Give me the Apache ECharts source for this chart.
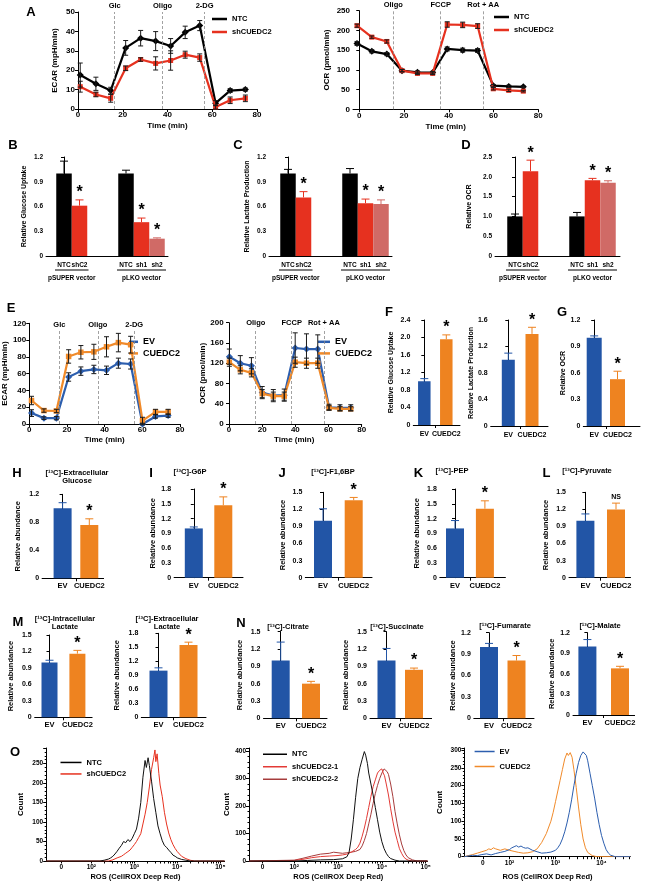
<!DOCTYPE html>
<html><head><meta charset="utf-8">
<script src="https://cdn.jsdelivr.net/npm/echarts@6/dist/echarts.min.js"></script>
<style>html,body{margin:0;padding:0;background:#fff}#c{width:648px;height:886px}</style>
</head><body><div id="c"></div>
<script>
// ================= DATA =================
// A - ECAR
const timeA_ECAR = [1.0, 8.0, 14.6, 21.3, 28.0, 34.7, 41.4, 47.9, 54.4, 61.5, 68.0, 74.8];
const ecarA_NTC = [17.5, 13.0, 9.5, 31.5, 36.5, 35.0, 32.5, 39.5, 43.0, 3.0, 9.5, 10.0];
const ecarA_NTC_err = [6.2, 3.4, 1.7, 3.8, 4.0, 4.9, 3.8, 3.2, 2.6, 1.3, 1.0, 0.8];
const ecarA_sh = [11.5, 7.5, 5.5, 21.0, 25.5, 23.5, 25.0, 28.0, 26.5, 1.0, 4.5, 5.5];
const ecarA_sh_err = [2.8, 1.2, 2.0, 1.2, 0.9, 3.4, 5.0, 1.8, 1.9, 1.0, 1.7, 1.7];
const injA_ECAR = [16.4, 37.8, 56.6];
const injA_ECAR_names = ['Glc', 'Oligo', '2-DG'];
// A - OCR
const timeA_OCR = [-1.0, 5.6, 12.3, 19.1, 26.0, 32.8, 39.3, 46.2, 52.9, 59.9, 66.8, 73.3];
const ocrA_NTC = [167, 147, 140, 98, 94, 93, 153, 150, 149, 60, 58, 57];
const ocrA_NTC_err = [5, 4, 4, 3, 3, 3, 5, 5, 5, 3, 3, 2];
const ocrA_sh = [212, 183, 172, 98, 91, 91, 215, 214, 211, 52, 48, 46];
const ocrA_sh_err = [4, 3, 4, 3, 3, 3, 7, 7, 6, 3, 3, 2];
const injA_OCR = [15.2, 36.4, 55.4];
const injA_OCR_names = ['Oligo', 'FCCP', 'Rot + AA'];
// B, C, D
const catsBCD = ['NTC', 'shC2', '', '', 'NTC', 'sh1', 'sh2'];
const groupsBCD = ['pSUPER vector', 'pLKO vector'];
const valsB = [1.0, 0.61, 1.0, 0.41, 0.21];
const errB = [0.15, 0.07, 0.04, 0.05, 0.01];
const valsC = [1.0, 0.71, 1.0, 0.64, 0.63];
const errC = [0.05, 0.07, 0.06, 0.05, 0.05];
const valsD = [1.0, 2.14, 1.0, 1.91, 1.85];
const errD = [0.06, 0.28, 0.10, 0.05, 0.05];
const sigBCD = ['', '*', '', '*', '*'];
// E - ECAR
const timeE_ECAR = [1.2, 7.8, 14.4, 20.9, 27.4, 34.3, 41.0, 47.3, 53.8, 60.1, 67.0, 73.7];
const ecarE_EV = [13, 7, 7, 56, 63, 65, 64, 72.5, 71.5, 0, 9, 10];
const ecarE_EV_err = [4, 1.5, 2, 5, 5, 5, 5, 6, 6, 1, 2, 2];
const ecarE_CU = [28, 16, 15.5, 80.5, 85.5, 86, 92, 97, 94.5, 4, 14.5, 14.5];
const ecarE_CU_err = [5, 2, 2, 8, 8, 9, 12, 11, 10, 4, 3, 3];
const injE_ECAR = [16.0, 36.4, 55.7];
const injE_ECAR_names = ['Glc', 'Oligo', '2-DG'];
// E - OCR
const timeE_OCR = [0.2, 6.8, 13.5, 20.0, 26.7, 33.3, 39.9, 46.7, 53.5, 60.3, 66.9, 73.4];
const ocrE_EV = [133, 120, 115, 62, 56, 57, 150, 148, 148, 33, 32, 32];
const ocrE_EV_err = [15, 15, 16, 12, 12, 12, 30, 30, 28, 6, 6, 6];
const ocrE_CU = [122, 107, 101, 60, 55, 55, 122, 120, 120, 32, 30, 30];
const ocrE_CU_err = [8, 8, 8, 8, 8, 8, 10, 10, 10, 4, 4, 4];
const injE_OCR = [16.1, 37.8, 57.2];
const injE_OCR_names = ['Oligo', 'FCCP', 'Rot + AA'];
// F, G and H-N : EV vs CUEDC2
const catsEV = ['EV', 'CUEDC2'];
const valsF1 = [1.0, 1.96], errF1 = [0.06, 0.10];
const valsF2 = [1.0, 1.39], errF2 = [0.10, 0.10];
const valsG = [1.0, 0.53], errG = [0.02, 0.09];
const valsH = [1.0, 0.76], errH = [0.08, 0.09];
const valsI = [1.0, 1.47], errI = [0.03, 0.17];
const valsJ = [1.0, 1.36], errJ = [0.21, 0.05];
const valsK = [1.0, 1.40], errK = [0.16, 0.16];
const valsL = [1.0, 1.20], errL = [0.12, 0.11];
const valsM1 = [1.0, 1.16], errM1 = [0.04, 0.06];
const valsM2 = [1.0, 1.55], errM2 = [0.06, 0.06];
const valsN1 = [1.0, 0.60], errN1 = [0.32, 0.04];
const valsN2 = [1.0, 0.84], errN2 = [0.21, 0.03];
const valsN3 = [1.0, 0.81], errN3 = [0.05, 0.07];
const valsN4 = [1.0, 0.68], errN4 = [0.10, 0.03];
const sigStar = ['', '*'];
const sigNS = ['', 'NS'];
const titlesHN = {
  H: '[¹³C]-Extracellular\nGlucose', I: '[¹³C]-G6P', J: '[¹³C]-F1,6BP', K: '[¹³C]-PEP', L: '[¹³C]-Pyruvate',
  M1: '[¹³C]-Intracellular\nLactate', M2: '[¹³C]-Extracellular\nLactate',
  N1: '[¹³C]-Citrate', N2: '[¹³C]-Succinate', N3: '[¹³C]-Fumarate', N4: '[¹³C]-Malate'
};
// O - flow histograms  [log10 fluorescence (display units), count]
const o1Ticks = [1.3, 2, 3, 4, 5];
const o2Ticks = [1.28, 2, 3, 4, 5];
const o3Ticks = [1.42, 2, 3, 4];
const oTickLabels = ['0', '10²', '10³', '10⁴', '10⁵'];
const o1_NTC = [[0.95,0],[2.2,0],[2.3,2],[2.4,5],[2.45,8],[2.5,12],[2.55,18],[2.6,25],[2.65,33],[2.7,40],[2.75,50],[2.8,47],[2.85,55],[2.9,50],[2.95,58],[3.0,70],[3.05,82],[3.1,110],[3.15,150],[3.2,215],[3.25,258],[3.28,240],[3.32,265],[3.35,245],[3.4,205],[3.45,160],[3.5,125],[3.55,90],[3.6,70],[3.65,52],[3.7,40],[3.75,35],[3.8,28],[3.85,22],[3.9,15],[3.95,12],[4.0,8],[4.1,4],[4.2,2],[4.3,0],[5.1,0]];
const o1_sh = [[0.95,0],[2.4,0],[2.5,3],[2.6,8],[2.7,12],[2.75,16],[2.8,20],[2.85,24],[2.9,28],[2.95,35],[3.0,42],[3.05,50],[3.1,60],[3.15,70],[3.2,95],[3.25,120],[3.3,150],[3.35,190],[3.4,235],[3.45,265],[3.48,285],[3.5,255],[3.53,275],[3.57,225],[3.6,195],[3.65,165],[3.7,125],[3.75,95],[3.8,72],[3.85,55],[3.9,42],[3.95,32],[4.0,24],[4.05,18],[4.1,12],[4.2,6],[4.3,2],[4.4,0],[5.1,0]];
const o2_NTC = [[0.97,0],[2.0,0],[2.3,2],[2.6,4],[2.9,5],[3.1,8],[3.2,15],[3.25,30],[3.3,80],[3.35,150],[3.4,230],[3.45,300],[3.5,340],[3.55,370],[3.6,398],[3.63,385],[3.67,355],[3.7,320],[3.75,280],[3.8,240],[3.85,195],[3.9,150],[3.95,105],[4.0,70],[4.05,45],[4.1,28],[4.15,16],[4.2,9],[4.3,3],[4.4,0],[5.04,0]];
const o2_sh1 = [[0.97,0],[2.0,2],[2.2,6],[2.4,12],[2.6,16],[2.8,18],[3.0,20],[3.1,22],[3.2,25],[3.3,32],[3.4,42],[3.45,50],[3.5,65],[3.55,90],[3.6,120],[3.65,155],[3.7,195],[3.75,235],[3.8,270],[3.85,295],[3.9,320],[3.95,330],[4.0,335],[4.03,320],[4.06,310],[4.1,280],[4.15,240],[4.2,190],[4.25,145],[4.3,105],[4.35,75],[4.4,45],[4.45,28],[4.5,14],[4.55,7],[4.6,3],[4.7,0],[5.04,0]];
const o2_sh2 = [[0.97,0],[2.0,3],[2.2,10],[2.4,18],[2.6,25],[2.8,28],[2.9,32],[3.0,30],[3.1,28],[3.2,30],[3.3,32],[3.4,35],[3.5,42],[3.55,55],[3.6,75],[3.65,100],[3.7,135],[3.75,170],[3.8,210],[3.85,245],[3.9,275],[3.95,300],[4.0,320],[4.05,335],[4.08,342],[4.12,325],[4.15,315],[4.2,280],[4.25,235],[4.3,180],[4.35,135],[4.4,95],[4.45,62],[4.5,38],[4.55,22],[4.6,12],[4.7,4],[4.8,0],[5.04,0]];
const o3_EV = [[1.02,0],[1.1,2],[1.2,4],[1.3,3],[1.4,6],[1.5,8],[1.6,5],[1.7,9],[1.8,12],[1.9,15],[2.0,20],[2.05,25],[2.1,28],[2.15,31],[2.2,27],[2.25,30],[2.3,26],[2.35,24],[2.4,25],[2.5,18],[2.6,14],[2.7,10],[2.8,11],[2.9,13],[3.0,18],[3.05,25],[3.1,35],[3.15,50],[3.2,70],[3.25,95],[3.3,125],[3.35,160],[3.4,200],[3.45,235],[3.5,265],[3.55,285],[3.6,295],[3.63,298],[3.67,285],[3.7,270],[3.75,235],[3.8,200],[3.85,165],[3.9,125],[3.95,90],[4.0,60],[4.05,38],[4.1,20],[4.15,10],[4.2,4],[4.3,0],[4.63,0]];
const o3_CU = [[1.02,0],[1.1,3],[1.2,6],[1.3,10],[1.4,14],[1.5,18],[1.55,22],[1.6,20],[1.65,25],[1.7,22],[1.8,18],[1.9,22],[2.0,18],[2.1,15],[2.2,12],[2.3,10],[2.4,11],[2.5,14],[2.6,22],[2.7,40],[2.8,65],[2.9,100],[2.95,125],[3.0,155],[3.05,185],[3.1,215],[3.15,245],[3.2,275],[3.25,292],[3.28,285],[3.32,293],[3.36,280],[3.4,245],[3.45,195],[3.5,140],[3.55,90],[3.6,50],[3.65,25],[3.7,12],[3.8,3],[3.9,0],[4.63,0]];

// ================= STYLE / HELPERS =================
const FF = "'Liberation Sans', Arial, Helvetica, sans-serif";
const C_RED = '#e6311f', C_PINK = '#d06a66', C_BLK = '#000000';
const C_BLUE = '#2255a6', C_ORG = '#ee8320';
const colorsBCD = [C_BLK, C_RED, C_BLK, C_RED, C_PINK];
const colorsEV = [C_BLUE, C_ORG];

const grids = [], xAxes = [], yAxes = [], series = [], graphic = [], legends = [];
const AX = {color: '#000', width: 1};
const lab = fs => ({color: '#000', fontFamily: FF, fontWeight: 'bold', fontSize: fs});

function addText(x, y, text, fs, align, lh) {
  graphic.push({type: 'text', x: x, y: y, silent: true, z: 100,
    style: {text: text, fill: '#000', fontFamily: FF, fontWeight: 'bold', fontSize: fs,
      align: align || 'center', verticalAlign: 'middle', lineHeight: lh || fs + 1}});
}
function addLine(x1, y1, x2, y2) {
  graphic.push({type: 'line', silent: true, z: 100, shape: {x1: x1, y1: y1, x2: x2, y2: y2},
    style: {stroke: '#000', lineWidth: 1}});
}
function addGrid(l, t, r, b) { grids.push({left: l, top: t, width: r - l, height: b - t}); return grids.length - 1; }

function makeY(gi, o) {
  const lbl = Object.assign(lab(o.fs), {margin: 3});
  if (o.fmt) lbl.formatter = o.fmt;
  if (o.hideMax) lbl.showMaxLabel = false;
  return {gridIndex: gi, type: 'value', min: 0, max: o.max, interval: o.interval,
    splitLine: {show: false}, axisLine: {show: true, lineStyle: AX},
    axisTick: {show: true, length: 3, lineStyle: AX},
    minorTick: o.minor ? {show: true, splitNumber: o.minor, length: 1.5, lineStyle: AX} : {show: false},
    axisLabel: lbl,
    name: o.name, nameLocation: 'middle', nameGap: o.gap, nameRotate: 90, nameTextStyle: lab(o.nfs)};
}
const dec1 = v => (Math.abs(v) < 1e-9 ? '0' : v.toFixed(1));

function barPanel(p) {
  const gi = addGrid(p.left, p.top, p.end, p.bottom);
  const pos = [];
  p.cats.forEach((c, i) => { if (c !== '') pos.push(i); });
  const xmin = -(p.c0 - p.left) / p.slot, xmax = (p.end - p.c0) / p.slot;
  const bounds = [];
  for (let k = 0; k < pos.length - 1; k++) if (pos[k + 1] === pos[k] + 1) bounds.push(pos[k] + 0.5);
  xAxes.push({gridIndex: gi, type: 'value', min: xmin, max: xmax, splitLine: {show: false},
    axisLine: {show: true, onZero: false, lineStyle: AX},
    axisTick: {show: !!p.xticks, length: 3, lineStyle: AX, customValues: bounds},
    axisLabel: Object.assign(lab(p.xfs), {margin: p.xmargin, customValues: pos,
      formatter: v => p.cats[Math.round(v)]})});
  yAxes.push(makeY(gi, {max: p.ymax, interval: p.yint, fs: p.fs, nfs: p.nfs, name: p.yname, gap: p.ygap, fmt: dec1}));
  series.push({type: 'bar', xAxisIndex: gi, yAxisIndex: gi, barWidth: p.barW, silent: true,
    data: pos.map((ix, k) => ({value: [ix, p.vals[k]], itemStyle: {color: p.colors[k]}}))});
  series.push({type: 'custom', xAxisIndex: gi, yAxisIndex: gi, silent: true, clip: false, z: 5,
    data: pos.map((ix, k) => [ix, p.vals[k], p.errs[k], k]),
    renderItem: function (params, api) {
      const x = api.value(0), v = api.value(1), e = api.value(2), k = api.value(3);
      const a = api.coord([x, v]), b = api.coord([x, v + e]);
      const col = p.colors[k], cap = p.cap || 4;
      const ch = [
        {type: 'line', shape: {x1: a[0], y1: a[1], x2: b[0], y2: b[1]}, style: {stroke: col, lineWidth: 1}},
        {type: 'line', shape: {x1: b[0] - cap, y1: b[1], x2: b[0] + cap, y2: b[1]}, style: {stroke: col, lineWidth: 1}}
      ];
      const s = p.sig[k];
      if (s) ch.push({type: 'text', x: b[0], y: b[1] - (s === '*' ? -1 : 3),
        style: {text: s, fill: '#000', fontFamily: FF, fontWeight: 'bold', fontSize: s === '*' ? 16 : 7,
          align: 'center', verticalAlign: 'bottom'}});
      return {type: 'group', children: ch};
    }});
  if (p.groups) {
    const px = i => p.c0 + i * p.slot;
    const runs = [];
    pos.forEach(ix => {
      const r = runs[runs.length - 1];
      if (r && r[1] === ix - 1) r[1] = ix; else runs.push([ix, ix]);
    });
    runs.forEach((r, gi2) => {
      const x1 = px(r[0]) - 9, x2 = px(r[1]) + 9;
      addLine(x1, p.bottom + 14, x2, p.bottom + 14);
      addText((x1 + x2) / 2, p.bottom + 22.5, p.groups[gi2], p.gfs || p.xfs);
    });
  }
  if (p.title) addText(p.titleX, p.titleY, p.title, 7.5, 'center', 8);
}

function errSym(cap, col) {
  return function (params, api) {
    const t = api.value(0), v = api.value(1), e = api.value(2);
    const a = api.coord([t, v - e]), b = api.coord([t, v + e]);
    const st = {stroke: col, lineWidth: 1};
    return {type: 'group', children: [
      {type: 'line', shape: {x1: a[0], y1: a[1], x2: b[0], y2: b[1]}, style: st},
      {type: 'line', shape: {x1: a[0] - cap, y1: a[1], x2: a[0] + cap, y2: a[1]}, style: st},
      {type: 'line', shape: {x1: b[0] - cap, y1: b[1], x2: b[0] + cap, y2: b[1]}, style: st}
    ]};
  };
}

function linePanel(p) {
  const gi = addGrid(p.left, p.top, p.right, p.bottom);
  xAxes.push({gridIndex: gi, type: 'value', min: p.xmin, max: p.xmax, splitLine: {show: false},
    axisLine: {show: true, onZero: false, lineStyle: AX},
    axisTick: {show: true, length: 3, lineStyle: AX, customValues: p.xticks},
    axisLabel: Object.assign(lab(p.fs), {margin: p.xmargin, customValues: p.xticks}),
    name: 'Time (min)', nameLocation: 'middle', nameGap: p.xgap, nameTextStyle: lab(p.nfs)});
  yAxes.push(makeY(gi, {max: p.ymax, interval: p.yint, fs: p.fs, nfs: p.nfs, name: p.yname, gap: p.ygap}));
  p.lines.forEach((s, si) => {
    const ser = {type: 'line', name: s.name, xAxisIndex: gi, yAxisIndex: gi, z: 3 + si, silent: true,
      data: s.t.map((t, i) => [t, s.v[i]]), symbol: s.symbol, symbolSize: s.size, showSymbol: true,
      color: s.color, itemStyle: {color: s.color}, lineStyle: {color: s.color, width: 2.2}};
    if (si === 0) {
      ser.markLine = {silent: true, symbol: ['none', 'none'], animation: false,
        lineStyle: {type: [3, 2], color: '#8a8a8a', width: 0.8},
        label: Object.assign({show: true, position: 'end', distance: 2, formatter: '{b}'}, lab(p.injFs)),
        data: p.inj.map((x, i) => p.injTop == null ? {name: p.injNames[i], xAxis: x}
          : [{name: p.injNames[i], coord: [x, 0]}, {coord: [x, p.injTop]}])};
    }
    series.push(ser);
    series.push({type: 'custom', xAxisIndex: gi, yAxisIndex: gi, z: 6, silent: true, clip: false,
      data: s.t.map((t, i) => [t, s.v[i], s.e[i]]), renderItem: errSym(2.5, '#1a1a1a')});
  });
  legends.push({data: p.lines.map(s => s.name), left: p.leg.left, top: p.leg.top, orient: 'vertical',
    icon: 'rect', itemWidth: p.leg.w, itemHeight: 2.5, itemGap: 0, padding: 0, selectedMode: false,
    textStyle: Object.assign(lab(p.leg.fs), {lineHeight: p.leg.lh})});
}

function logMinor(majors, lo, hi) {
  const out = majors.slice();
  for (let d = 2; d < 5; d++) for (let m = 2; m <= 9; m++) {
    const v = d + Math.log10(m);
    if (v > lo && v < hi) out.push(v);
  }
  return out;
}

function histPanel(p) {
  const gi = addGrid(p.left, p.top, p.right, p.bottom);
  xAxes.push({gridIndex: gi, type: 'value', min: p.xmin, max: p.xmax, splitLine: {show: false},
    axisLine: {show: true, onZero: false, lineStyle: AX},
    axisTick: {show: true, length: 2.5, lineStyle: AX, customValues: logMinor(p.ticks, p.xmin, p.xmax)},
    axisLabel: Object.assign(lab(6.5), {margin: 3, customValues: p.ticks,
      formatter: v => { const i = p.ticks.findIndex(t => Math.abs(t - v) < 1e-6); return i >= 0 ? oTickLabels[i] : ''; }}),
    name: 'ROS (CellROX Deep Red)', nameLocation: 'middle', nameGap: p.xgap, nameTextStyle: lab(7.5)});
  yAxes.push(makeY(gi, {max: p.ymax, interval: p.yint, fs: 6.5, nfs: 8, name: 'Count', gap: p.ygap, minor: 5, hideMax: true}));
  p.curves.forEach((c, ci) => series.push({type: 'line', name: c.name, xAxisIndex: gi, yAxisIndex: gi,
    data: c.data, symbol: 'none', showSymbol: false, silent: true, z: 3 + ci, color: c.color,
    lineStyle: {color: c.color, width: 1}}));
  legends.push({data: p.curves.map(c => c.name).sort((a, b) => p.legOrder.indexOf(a) - p.legOrder.indexOf(b)),
    left: p.leg.left, top: p.leg.top, orient: 'vertical',
    icon: 'rect', itemWidth: p.leg.w, itemHeight: 1.5, itemGap: p.leg.gap, padding: 0, selectedMode: false,
    textStyle: Object.assign(lab(7.5), {lineHeight: p.leg.lh})});
}

// ================= PANELS =================
linePanel({left: 78, top: 12, right: 257, bottom: 109, xmin: 0, xmax: 80, xticks: [0, 20, 40, 60, 80],
  ymax: 50, yint: 10, yname: 'ECAR (mpH/min)', ygap: 19, fs: 8, nfs: 8, xgap: 13, xmargin: 2,
  inj: injA_ECAR, injNames: injA_ECAR_names, injFs: 7.5, injTop: null,
  lines: [{name: 'NTC', t: timeA_ECAR, v: ecarA_NTC, e: ecarA_NTC_err, color: C_BLK, symbol: 'diamond', size: 7},
          {name: 'shCUEDC2', t: timeA_ECAR, v: ecarA_sh, e: ecarA_sh_err, color: C_RED, symbol: 'rect', size: 5}],
  leg: {left: 212, top: 12.5, w: 15, fs: 7.5, lh: 13}});
linePanel({left: 353, top: 10.7, right: 538.3, bottom: 109.3, xmin: -2.8, xmax: 80, xticks: [0, 20, 40, 60, 80],
  ymax: 250, yint: 50, yname: 'OCR (pmol/min)', ygap: 22, fs: 8, nfs: 8, xgap: 13, xmargin: 2,
  inj: injA_OCR, injNames: injA_OCR_names, injFs: 7.5, injTop: null,
  lines: [{name: 'NTC', t: timeA_OCR, v: ocrA_NTC, e: ocrA_NTC_err, color: C_BLK, symbol: 'diamond', size: 7},
          {name: 'shCUEDC2', t: timeA_OCR, v: ocrA_sh, e: ocrA_sh_err, color: C_RED, symbol: 'rect', size: 5}],
  leg: {left: 494, top: 10.5, w: 15, fs: 7.5, lh: 13}});

const bcdCommon = {top: 157, bottom: 256, barW: 15.5, slot: 15.5, cats: catsBCD, sig: sigBCD, colors: colorsBCD,
  fs: 6.5, nfs: 7, xfs: 6.5, gfs: 6.5, xmargin: 6, groups: groupsBCD, cap: 4};
barPanel(Object.assign({}, bcdCommon, {left: 46, c0: 64, end: 168, vals: valsB, errs: errB,
  ymax: 1.2, yint: 0.3, yname: 'Relative Glucose Uptake', ygap: 18}));
barPanel(Object.assign({}, bcdCommon, {left: 269, c0: 288, end: 392, vals: valsC, errs: errC,
  ymax: 1.2, yint: 0.3, yname: 'Relative Lactate Production', ygap: 18}));
barPanel(Object.assign({}, bcdCommon, {left: 495, c0: 515, end: 620, vals: valsD, errs: errD,
  ymax: 2.5, yint: 0.5, yname: 'Relative OCR', ygap: 22}));

linePanel({left: 28.3, top: 323.3, right: 180, bottom: 424, xmin: 0, xmax: 80, xticks: [0, 20, 40, 60, 80],
  ymax: 120, yint: 20, yname: 'ECAR (mpH/min)', ygap: 18, fs: 8, nfs: 8, xgap: 12, xmargin: 2,
  inj: injE_ECAR, injNames: injE_ECAR_names, injFs: 7.5, injTop: 111,
  lines: [{name: 'EV', t: timeE_ECAR, v: ecarE_EV, e: ecarE_EV_err, color: '#2c5eae', symbol: 'diamond', size: 7},
          {name: 'CUEDC2', t: timeE_ECAR, v: ecarE_CU, e: ecarE_CU_err, color: '#f08a2a', symbol: 'rect', size: 5.5}],
  leg: {left: 129, top: 336, w: 9, fs: 9, lh: 11.6}});
linePanel({left: 226.7, top: 322.7, right: 361.7, bottom: 424, xmin: -1.4, xmax: 80, xticks: [0, 20, 40, 60, 80],
  ymax: 200, yint: 40, yname: 'OCR (pmol/min)', ygap: 18, fs: 8, nfs: 8, xgap: 12, xmargin: 2,
  inj: injE_OCR, injNames: injE_OCR_names, injFs: 7.5, injTop: 188,
  lines: [{name: 'EV', t: timeE_OCR, v: ocrE_EV, e: ocrE_EV_err, color: '#2c5eae', symbol: 'diamond', size: 7},
          {name: 'CUEDC2', t: timeE_OCR, v: ocrE_CU, e: ocrE_CU_err, color: '#f08a2a', symbol: 'rect', size: 5.5}],
  leg: {left: 318, top: 336, w: 12, fs: 9, lh: 11.6}});

const evCommon = {cats: catsEV, colors: colorsEV, fs: 7, nfs: 7, xfs: 7, xmargin: 6, cap: 4, xticks: true};
barPanel(Object.assign({}, evCommon, {left: 413.3, c0: 424.3, slot: 22, end: 460, barW: 12.5, top: 320, bottom: 425,
  vals: valsF1, errs: errF1, sig: sigStar, ymax: 2.4, yint: 0.4, yname: 'Relative Glucose Uptake', ygap: 19}));
barPanel(Object.assign({}, evCommon, {left: 490.7, c0: 508.3, slot: 23.7, end: 548, barW: 13, top: 320, bottom: 426,
  vals: valsF2, errs: errF2, sig: sigStar, ymax: 1.6, yint: 0.4, yname: 'Relative Lactate Production', ygap: 12.5}));
barPanel(Object.assign({}, evCommon, {left: 583.3, c0: 594.2, slot: 23.3, end: 640, barW: 15, top: 320, bottom: 426,
  vals: valsG, errs: errG, sig: sigStar, ymax: 1.2, yint: 0.3, yname: 'Relative OCR', ygap: 12}));

const hnCommon = Object.assign({}, evCommon, {fs: 7, nfs: 7.5, xfs: 7.5, xmargin: 4, barW: 18, yname: 'Relative abundance', cap: 4});
barPanel(Object.assign({}, hnCommon, {left: 42.1, c0: 62.6, slot: 26.7, end: 103.6, top: 494.3, bottom: 578.3,
  vals: valsH, errs: errH, sig: sigStar, ymax: 1.2, yint: 0.4, ygap: 20, title: titlesHN.H, titleX: 77, titleY: 477}));
barPanel(Object.assign({}, hnCommon, {left: 174.1, c0: 193.8, slot: 29.5, end: 243, top: 489, bottom: 577.7,
  vals: valsI, errs: errI, sig: sigStar, ymax: 1.8, yint: 0.3, ygap: 17, title: titlesHN.I, titleX: 190, titleY: 471.7}));
barPanel(Object.assign({}, hnCommon, {left: 305.3, c0: 323, slot: 30.7, end: 372, top: 492.3, bottom: 577.7,
  vals: valsJ, errs: errJ, sig: sigStar, ymax: 1.5, yint: 0.3, ygap: 18, title: titlesHN.J, titleX: 333, titleY: 471.7}));
barPanel(Object.assign({}, hnCommon, {left: 439.8, c0: 455, slot: 29.9, end: 505.4, top: 489, bottom: 577.7,
  vals: valsK, errs: errK, sig: sigStar, ymax: 1.8, yint: 0.3, ygap: 19, title: titlesHN.K, titleX: 452, titleY: 470.5}));
barPanel(Object.assign({}, hnCommon, {left: 569, c0: 585.4, slot: 30.6, end: 630.5, top: 492.3, bottom: 577.7,
  vals: valsL, errs: errL, sig: sigNS, ymax: 1.5, yint: 0.3, ygap: 19, title: titlesHN.L, titleX: 587, titleY: 470.5}));

barPanel(Object.assign({}, hnCommon, {left: 34.7, c0: 49.5, slot: 27.9, end: 92.1, top: 635, bottom: 717.3, barW: 16,
  vals: valsM1, errs: errM1, sig: sigStar, ymax: 1.5, yint: 0.3, ygap: 20, title: titlesHN.M1, titleX: 65, titleY: 623.3}));
barPanel(Object.assign({}, hnCommon, {left: 141.3, c0: 158.5, slot: 30, end: 206, top: 633.3, bottom: 717.3,
  vals: valsM2, errs: errM2, sig: sigStar, ymax: 1.8, yint: 0.3, ygap: 20, title: titlesHN.M2, titleX: 167, titleY: 623.3}));
barPanel(Object.assign({}, hnCommon, {left: 263.5, c0: 280.7, slot: 30.3, end: 327, top: 631.7, bottom: 718.3,
  vals: valsN1, errs: errN1, sig: sigStar, ymax: 1.5, yint: 0.3, ygap: 20, title: titlesHN.N1, titleX: 288, titleY: 627.3}));
barPanel(Object.assign({}, hnCommon, {left: 370, c0: 386.5, slot: 27.5, end: 431.6, top: 631.7, bottom: 718.3,
  vals: valsN2, errs: errN2, sig: sigStar, ymax: 1.5, yint: 0.3, ygap: 20, title: titlesHN.N2, titleX: 397, titleY: 627}));
barPanel(Object.assign({}, hnCommon, {left: 473.8, c0: 489, slot: 27.5, end: 534, top: 632.7, bottom: 718.3,
  vals: valsN3, errs: errN3, sig: sigStar, ymax: 1.2, yint: 0.3, ygap: 17, title: titlesHN.N3, titleX: 505, titleY: 626}));
barPanel(Object.assign({}, hnCommon, {left: 573, c0: 587.4, slot: 32.6, end: 634.6, top: 632.7, bottom: 715,
  vals: valsN4, errs: errN4, sig: sigStar, ymax: 1.2, yint: 0.3, ygap: 17, title: titlesHN.N4, titleX: 600, titleY: 626}));

histPanel({left: 46.2, top: 748, right: 224.6, bottom: 861, xmin: 0.95, xmax: 5.1, ticks: o1Ticks,
  ymax: 290, yint: 50, ygap: 21, xgap: 12,
  curves: [{name: 'shCUEDC2', data: o1_sh, color: C_RED}, {name: 'NTC', data: o1_NTC, color: '#111111'}],
  legOrder: ['NTC', 'shCUEDC2'], leg: {left: 60.5, top: 756.7, w: 21, gap: 0, lh: 11.5}});
histPanel({left: 249, top: 748, right: 427.5, bottom: 861, xmin: 0.97, xmax: 5.04, ticks: o2Ticks,
  ymax: 411, yint: 100, ygap: 18, xgap: 12,
  curves: [{name: 'shCUEDC2-2', data: o2_sh2, color: '#a63c3c'}, {name: 'shCUEDC2-1', data: o2_sh1, color: '#e33a36'},
           {name: 'NTC', data: o2_NTC, color: '#111111'}],
  legOrder: ['NTC', 'shCUEDC2-1', 'shCUEDC2-2'], leg: {left: 263, top: 748, w: 24, gap: 0, lh: 12.5}});
histPanel({left: 464.4, top: 748, right: 630.5, bottom: 856.7, xmin: 1.02, xmax: 4.63, ticks: o3Ticks,
  ymax: 306, yint: 50, ygap: 21, xgap: 16,
  curves: [{name: 'CUEDC2', data: o3_CU, color: '#f08a2a'}, {name: 'EV', data: o3_EV, color: '#2c5eae'}],
  legOrder: ['EV', 'CUEDC2'], leg: {left: 474.6, top: 746, w: 20, gap: 4, lh: 11}});

[['A', 31, 12.5], ['B', 13, 145], ['C', 238, 145], ['D', 466, 145], ['E', 11, 308.5], ['F', 389, 312.5],
 ['G', 562, 312.5], ['H', 17, 473], ['I', 151, 473], ['J', 282, 473], ['K', 418.5, 473], ['L', 546.5, 473],
 ['M', 18, 622.5], ['N', 241, 623], ['O', 15, 752.5]].forEach(l => addText(l[1], l[2], l[0], 13));

const chart = echarts.init(document.getElementById('c'), null, {renderer: 'canvas'});
chart.setOption({animation: false, backgroundColor: '#ffffff', textStyle: {fontFamily: FF},
  grid: grids, xAxis: xAxes, yAxis: yAxes, series: series, legend: legends, graphic: graphic});
</script></body></html>
